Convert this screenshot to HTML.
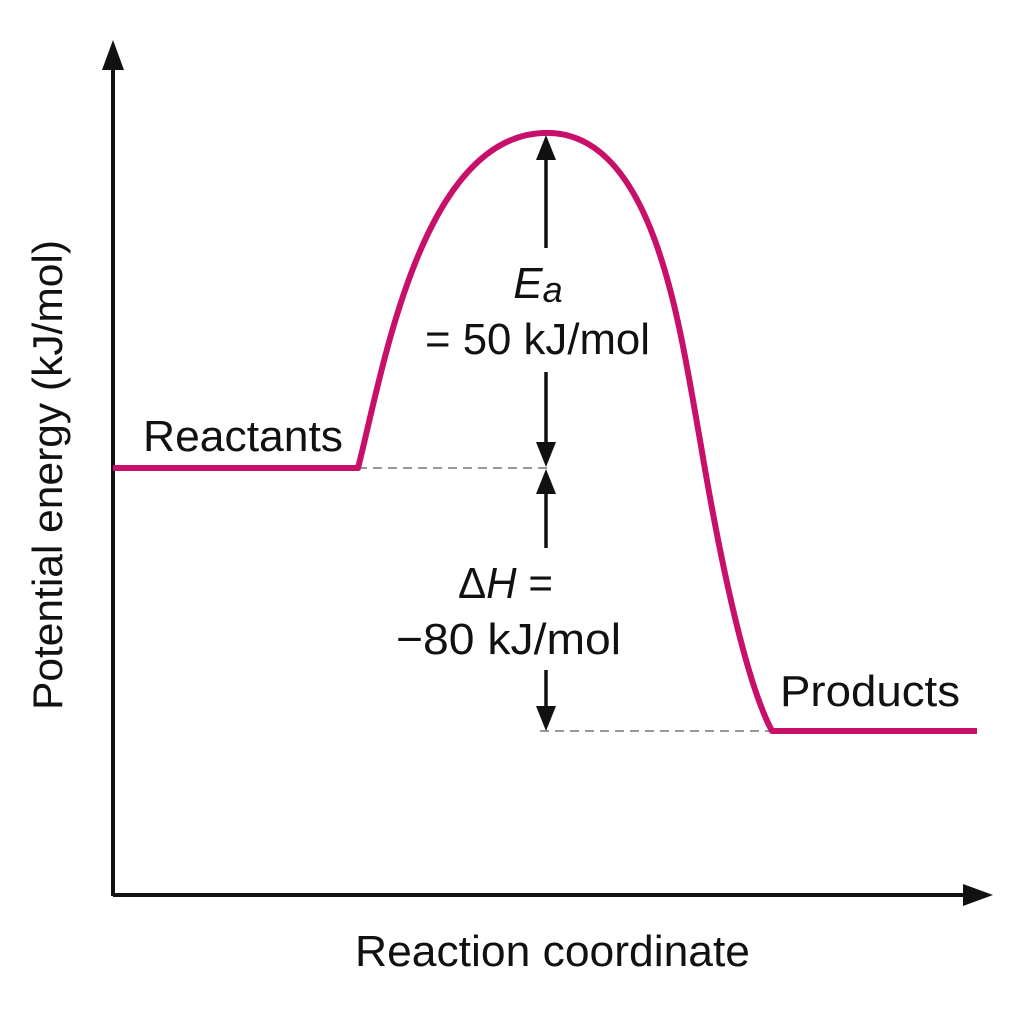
<!DOCTYPE html>
<html><head><style>body{margin:0;background:#fff}</style></head><body>
<svg width="1024" height="1024" xmlns="http://www.w3.org/2000/svg" font-family="Liberation Sans, DejaVu Sans, sans-serif">
<!-- axes -->
<line x1="113" y1="896" x2="113" y2="62" stroke="#111" stroke-width="4"/>
<path d="M113 40 L102 70 L124 70 Z" fill="#111"/>
<line x1="113" y1="895" x2="970" y2="895" stroke="#111" stroke-width="4"/>
<path d="M993 895 L963 884 L963 906 Z" fill="#111"/>
<!-- dashed -->
<line x1="358" y1="468" x2="553" y2="468" stroke="#999" stroke-width="2" stroke-dasharray="9,6"/>
<line x1="540" y1="731" x2="772" y2="731" stroke="#999" stroke-width="2" stroke-dasharray="9,6"/>
<!-- curve -->
<path d="M113 468 L358 468 C382 375, 420 138, 543 133 C655 128, 680 330, 700 440 C725 590, 750 690, 772 731 L977 731" fill="none" stroke="#c8106a" stroke-width="6" stroke-linejoin="round"/>
<!-- arrows -->
<g stroke="#111" stroke-width="3.5">
<line x1="546" y1="248" x2="546" y2="155"/>
<line x1="546" y1="372" x2="546" y2="448"/>
<line x1="546" y1="548" x2="546" y2="490"/>
<line x1="546" y1="670" x2="546" y2="712"/>
</g>
<g fill="#111">
<path d="M546 135 L536 160 L556 160 Z"/>
<path d="M546 467 L536 442 L556 442 Z"/>
<path d="M546 469 L536 494 L556 494 Z"/>
<path d="M546 731 L536 706 L556 706 Z"/>
</g>
<!-- text -->
<g fill="#111" font-size="44">
<text x="143" y="451" textLength="200" lengthAdjust="spacingAndGlyphs">Reactants</text>
<text x="780" y="706" textLength="180" lengthAdjust="spacingAndGlyphs">Products</text>
<text x="355" y="966" textLength="395" lengthAdjust="spacingAndGlyphs">Reaction coordinate</text>
<text transform="translate(62,475) rotate(-90)" text-anchor="middle" font-size="42" textLength="470" lengthAdjust="spacingAndGlyphs">Potential energy (kJ/mol)</text>
<text x="538" y="298" text-anchor="middle" font-style="italic">E<tspan font-size="36" dy="4">a</tspan></text>
<text x="425" y="354" textLength="225" lengthAdjust="spacingAndGlyphs">= 50 kJ/mol</text>
<text x="458" y="598" textLength="95" lengthAdjust="spacingAndGlyphs">Δ<tspan font-style="italic">H</tspan> =</text>
<text x="396" y="654" textLength="225" lengthAdjust="spacingAndGlyphs">−80 kJ/mol</text>
</g>
</svg>
</body></html>
